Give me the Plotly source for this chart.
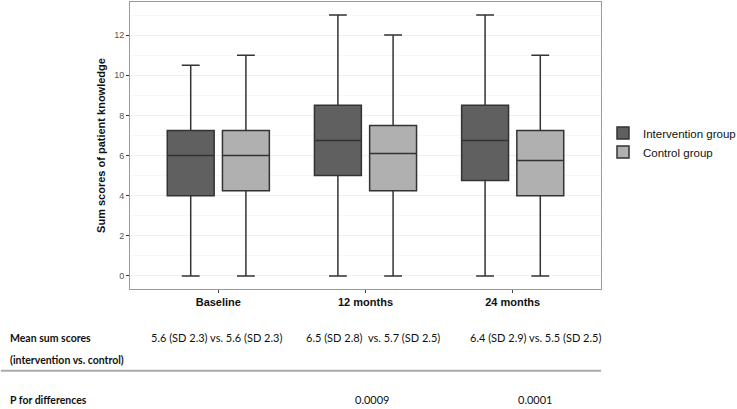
import plotly.graph_objects as go

categories = ["Baseline", "12 months", "24 months"]

int_lower = [0, 0, 0]
int_q1 = [4.0, 5.0, 4.75]
int_median = [6.0, 6.75, 6.75]
int_q3 = [7.25, 8.5, 8.5]
int_upper = [10.5, 13.0, 13.0]

ctl_lower = [0, 0, 0]
ctl_q1 = [4.25, 4.25, 4.0]
ctl_median = [6.0, 6.1, 5.75]
ctl_q3 = [7.25, 7.5, 7.25]
ctl_upper = [11.0, 12.0, 11.0]

mean_texts = ["5.6 (SD 2.3) vs. 5.6 (SD 2.3)",
              "6.5 (SD 2.8)  vs. 5.7 (SD 2.5)",
              "6.4 (SD 2.9) vs. 5.5 (SD 2.5)"]
p_texts = ["", "0.0009", "0.0001"]

W, H = 737, 409
L, R, T, B = 130, 133, 1, 120
pw, ph = W - L - R, H - T - B


def px_x(x):
    return (x - L) / pw


def px_y(y):
    return (H - B - y) / ph


fig = go.Figure()
fig.add_trace(go.Box(
    name="Intervention group", x=categories,
    q1=int_q1, median=int_median, q3=int_q3,
    lowerfence=int_lower, upperfence=int_upper,
    fillcolor="#606060", line=dict(color="#333333", width=1.5),
    whiskerwidth=0.38, boxpoints=False, hoverinfo="skip"))
fig.add_trace(go.Box(
    name="Control group", x=categories,
    q1=ctl_q1, median=ctl_median, q3=ctl_q3,
    lowerfence=ctl_lower, upperfence=ctl_upper,
    fillcolor="#B0B0B0", line=dict(color="#333333", width=1.5),
    whiskerwidth=0.38, boxpoints=False, hoverinfo="skip"))

annotations = []
col_centers = [217, 374.5, 538]
for cx, t in zip(col_centers, mean_texts):
    annotations.append(dict(text=t, x=px_x(cx), y=px_y(338), xref="paper", yref="paper",
                            xanchor="center", yanchor="middle", showarrow=False,
                            font=dict(family="Lato", size=11, color="#111111")))
for cx, t in zip(col_centers, p_texts):
    if t:
        annotations.append(dict(text=t, x=px_x(cx), y=px_y(400), xref="paper", yref="paper",
                                xanchor="center", yanchor="middle", showarrow=False,
                                font=dict(family="Lato", size=11, color="#111111")))
for txt, yy in [("<b>Mean sum scores</b>", 338), ("<b>(intervention vs. control)</b>", 360),
                ("<b>P for differences</b>", 400)]:
    annotations.append(dict(text=txt, x=px_x(7), y=px_y(yy), xref="paper", yref="paper",
                            xanchor="left", yanchor="middle", showarrow=False,
                            font=dict(family="Lato", size=10.5, color="#111111")))

fig.update_layout(
    width=W, height=H,
    margin=dict(l=L, r=R, t=T, b=B),
    paper_bgcolor="white", plot_bgcolor="white",
    boxmode="group", boxgap=0.25, boxgroupgap=0.15,
    font=dict(family="Liberation Sans, Arial", color="#111111"),
    showlegend=True,
    legend=dict(xref="container", x=603 / W, y=px_y(142), xanchor="left", yanchor="middle",
                font=dict(size=11.5, color="#111111"), itemwidth=30,
                bgcolor="rgba(0,0,0,0)", tracegroupgap=0),
    xaxis=dict(type="category", range=[-0.6, 2.6], showgrid=False,
               showline=True, mirror=True, linecolor="#9a9a9a", linewidth=1,
               ticks="outside", ticklen=3, tickcolor="#444444",
               tickfont=dict(size=11, color="#111111"),
               tickvals=categories, ticktext=["<b>%s</b>" % c for c in categories],
               zeroline=False),
    yaxis=dict(range=[-0.65, 13.65], dtick=2, tick0=0,
               showgrid=True, gridcolor="#EFEFEF", gridwidth=1,
               minor=dict(dtick=1, tick0=0, showgrid=True, gridcolor="#F7F7F7", gridwidth=1),
               showline=True, mirror=True, linecolor="#9a9a9a", linewidth=1,
               ticks="outside", ticklen=3, tickcolor="#333333",
               tickfont=dict(size=9, color="#555555"), zeroline=False,
               title=dict(text="<b>Sum scores of patient knowledge</b>",
                          font=dict(size=11, color="#111111"), standoff=6)),
    annotations=annotations,
    shapes=[dict(type="line", xref="paper", yref="paper",
                 x0=px_x(0), x1=px_x(604), y0=px_y(371), y1=px_y(371),
                 line=dict(color="#AAAAAA", width=2))],
)

fig.write_html("out.html", config={"displayModeBar": False},
               post_script="document.body.style.margin='0';document.body.style.overflow='hidden';")
